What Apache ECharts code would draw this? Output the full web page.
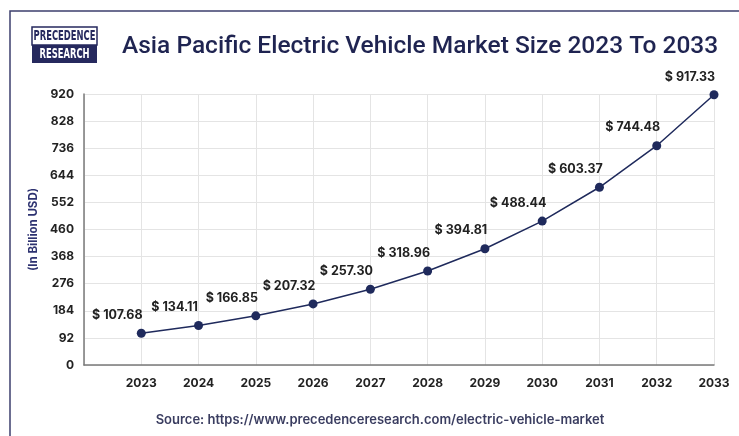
<!DOCTYPE html>
<html>
<head>
<meta charset="utf-8">
<script src="https://cdn.jsdelivr.net/npm/echarts@6/dist/echarts.min.js"></script>
<style>
  html, body { margin: 0; padding: 0; background: #ffffff; }
  #chart { width: 739px; height: 436px; }
</style>
</head>
<body>
<div id="chart"></div>
<script>
// Asia Pacific EV market size, in billion USD
const years = [2023, 2024, 2025, 2026, 2027, 2028, 2029, 2030, 2031, 2032, 2033];
const marketSize = [107.68, 134.11, 166.85, 207.32, 257.30, 318.96, 394.81, 488.44, 603.37, 744.48, 917.33];
const yTicks = [0, 92, 184, 276, 368, 460, 552, 644, 736, 828, 920];

const navy = '#1f2a5c';
const textDark = '#222222';
const font = 'Inter, Roboto, sans-serif';

const chart = echarts.init(document.getElementById('chart'));

chart.setOption({
  backgroundColor: '#ffffff',
  animation: false,
  grid: { left: 84, right: 25, top: 94, bottom: 71 },
  xAxis: {
    type: 'value',
    min: years[0] - 1,
    max: years[years.length - 1],
    interval: 1,
    axisLine: { show: true, lineStyle: { color: '#7a7a7a', width: 1.5 } },
    axisTick: { show: false },
    splitLine: { show: true, lineStyle: { color: '#e4e4e4', width: 1 } },
    axisLabel: {
      margin: 12,
      color: textDark,
      fontFamily: font,
      fontWeight: 'bold',
      fontSize: 12,
      formatter: v => (years.indexOf(v) >= 0 ? String(v) : '')
    }
  },
  yAxis: {
    type: 'value',
    min: yTicks[0],
    max: yTicks[yTicks.length - 1],
    interval: yTicks[1] - yTicks[0],
    name: '(In Billion USD)',
    nameLocation: 'middle',
    nameGap: 44,
    nameTextStyle: { color: '#2d3270', fontFamily: font, fontWeight: 'bold', fontSize: 11.5 },
    axisLine: { show: true, lineStyle: { color: '#7a7a7a', width: 1.5 } },
    axisTick: { show: false },
    splitLine: { show: true, lineStyle: { color: '#e4e4e4', width: 1 } },
    axisLabel: {
      margin: 10,
      color: textDark,
      fontFamily: font,
      fontWeight: 'bold',
      fontSize: 12
    }
  },
  series: [{
    type: 'line',
    data: years.map((y, i) => [y, marketSize[i]]),
    symbol: 'circle',
    symbolSize: 9,
    lineStyle: { color: navy, width: 1.5 },
    itemStyle: { color: navy },
    label: {
      show: true,
      position: 'top',
      offset: [-24, -2],
      color: textDark,
      fontFamily: font,
      fontWeight: 'bold',
      fontSize: 12.5,
      formatter: p => '$ ' + p.value[1].toFixed(2)
    }
  }],
  graphic: [
    // outer frame
    { type: 'rect', shape: { x: 10, y: 11, width: 740, height: 440 },
      style: { fill: 'none', stroke: '#3c3f6e', lineWidth: 1.5 }, silent: true },
    // logo
    { type: 'rect', shape: { x: 32, y: 27, width: 65, height: 18 },
      style: { fill: '#ffffff', stroke: '#26295e', lineWidth: 1.5 } },
    { type: 'rect', shape: { x: 32, y: 45, width: 65, height: 18 },
      style: { fill: '#26295e' } },
    { type: 'text', x: 64.5, y: 36.5, scaleX: 0.6,
      style: { text: 'PRECEDENCE', fill: '#26295e', font: 'bold 14px "DejaVu Sans"', align: 'center', verticalAlign: 'middle' } },
    { type: 'text', x: 64.5, y: 54.5, scaleX: 0.6,
      style: { text: 'RESEARCH', fill: '#ffffff', font: 'bold 14px "DejaVu Sans"', align: 'center', verticalAlign: 'middle' } },
    // title
    { type: 'text', x: 122, y: 47,
      style: { text: 'Asia Pacific Electric Vehicle Market Size 2023 To 2033', fill: '#1f2451',
               font: '500 24.5px Roboto', align: 'left', verticalAlign: 'middle' } },
    // source
    { type: 'text', x: 380, y: 420,
      style: { text: 'Source: https://www.precedenceresearch.com/electric-vehicle-market', fill: '#3a3d60',
               font: '600 13px Inter', align: 'center', verticalAlign: 'middle' } }
  ]
});
</script>
</body>
</html>
